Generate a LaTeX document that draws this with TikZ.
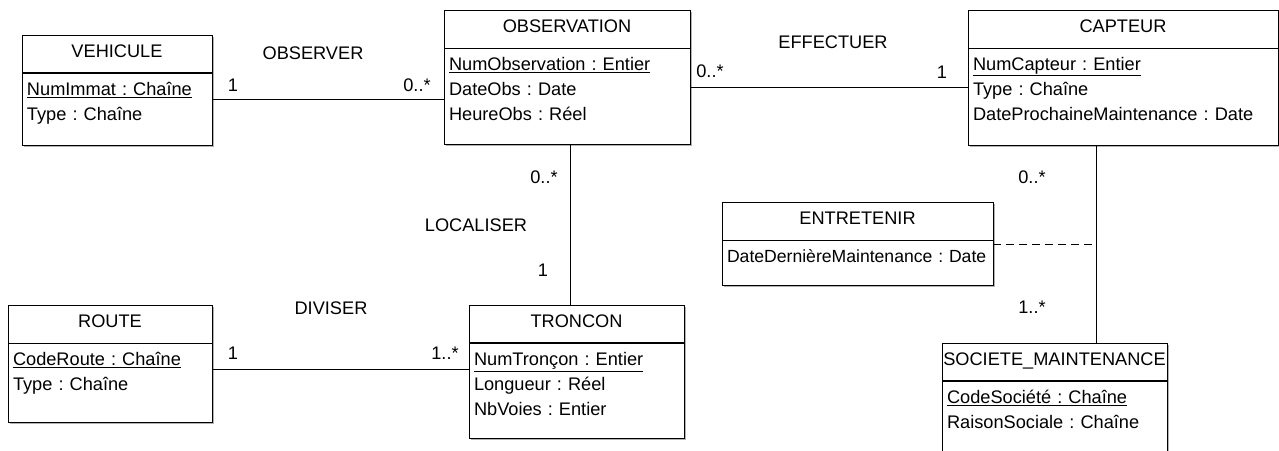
\documentclass[tikz,border=0pt]{standalone}
\usepackage{fontspec}
\setmainfont{Liberation Sans}
\usetikzlibrary{positioning,shadows}

\begin{document}
\begin{tikzpicture}[
      x=1pt,y=-1pt,line width=1pt,
      font=\fontsize{18.2}{25}\selectfont\frenchspacing,
      head/.style={draw,fill=white,anchor=north west,outer sep=0pt,
                   inner xsep=1pt,inner ysep=4pt,text height=18.5pt,text depth=11.5pt,
                   drop shadow={shadow xshift=2pt,shadow yshift=-2pt,fill=black!30,opacity=1}},
      body/.style={draw,fill=white,anchor=north west,outer sep=0pt,
                   inner xsep=5pt,inner ysep=4pt,text height=18.5pt,align=left,
                   drop shadow={shadow xshift=2pt,shadow yshift=-2pt,fill=black!30,opacity=1}},
      card/.style={inner sep=0pt,text height=13.2pt,text depth=0pt},
      link/.style={draw,line width=1pt},
      dep/.style={draw,line width=1pt,dash pattern=on 8pt off 5pt},
      sep/.style={draw,line width=2.2pt}]
    \path[use as bounding box] (0,0) rectangle (1279,450);
    \clip (0,0) rectangle (1279,450);
    \fill[white] (0,0) rectangle (1279,450);

    \node[head,minimum width=190pt] (vehH) at (22,35) {VEHICULE};
    \node[body,text width=180pt,text depth=45.5pt] (vehB) at (vehH.south west)
        {\underline{NumImmat : Chaîne}\\Type : Chaîne};
    \node[head,minimum width=246pt] (obsH) at (444,10) {OBSERVATION};
    \node[body,text width=236pt,text depth=69.5pt] (obsB) at (obsH.south west)
        {\underline{NumObservation : Entier}\\DateObs : Date\\HeureObs : Réel};
    \node[head,minimum width=310pt] (capH) at (968,10) {CAPTEUR};
    \node[body,text width=300pt,text depth=70.5pt] (capB) at (capH.south west)
        {\underline{NumCapteur : Entier}\\Type : Chaîne\\DateProchaineMaintenance : Date};
    \node[head,minimum width=204pt] (rouH) at (8,305) {ROUTE};
    \node[body,text width=194pt,text depth=52.5pt] (rouB) at (rouH.south west)
        {\underline{CodeRoute : Chaîne}\\Type : Chaîne};
    \node[head,minimum width=215pt] (troH) at (469,305) {TRONCON};
    \node[body,text width=205pt,text depth=68.5pt] (troB) at (troH.south west)
        {\underline{NumTronçon : Entier}\\Longueur : Réel\\NbVoies : Entier};
    \node[head,minimum width=271pt] (entH) at (722,202) {ENTRETENIR};
    \node[body,text width=261pt,text depth=18.5pt,
          font=\fontsize{17.6}{25}\selectfont\frenchspacing] (entB) at (entH.south west)
        {\mbox{DateDernièreMaintenance : Date}};
    \node[head,minimum width=225pt] (socH) at (942,343) {SOCIETE\_MAINTENANCE};
    \node[body,text width=215pt,text depth=93.5pt] (socB) at (socH.south west)
        {\underline{CodeSociété : Chaîne}\\RaisonSociale : Chaîne};
    \path[sep] (vehH.south west) -- (vehH.south east);
    \path[sep] (troH.south west) -- (troH.south east);
    \path[sep] (socH.south west) -- (socH.south east);

    \coordinate (cvo) at ([yshift=-3pt]obsB.west);
    \coordinate (coc) at ([yshift=9pt]obsB.east);
    \coordinate (cot) at ([xshift=3pt]obsB.south);
    \coordinate (crt) at ([yshift=21.5pt]troB.west);
    \coordinate (ccs) at ([xshift=-27pt]capB.south);
    \coordinate (cen) at ([yshift=-4pt]entB.north east);
    \path[link] (cvo -| vehB.east) -- (cvo);
    \path[link] (coc) -- (coc -| capB.west);
    \path[link] (cot) -- (cot |- troH.north);
    \path[link] (crt -| rouB.east) -- (crt);
    \path[link] (ccs) -- (ccs |- socH.north);
    \path[dep] (cen) -- (cen -| ccs);

    \node[card] (lObserver) at (313,53) {OBSERVER};
    \node[card] (mVeh) at (233,85) {1};
    \node[card] (mObsA) at (417,85) {0..*};
    \node[card] (lEffectuer) at (833,42) {EFFECTUER};
    \node[card] (mObsB) at (710,71) {0..*};
    \node[card] (mCap) at (942,72) {1};
    \node[card] (lLocaliser) at (476,225) {LOCALISER};
    \node[card] (mObsC) at (544,177) {0..*};
    \node[card] (mTroA) at (543,270) {1};
    \node[card] (lDiviser) at (331,308) {DIVISER};
    \node[card] (mRou) at (233,353) {1};
    \node[card] (mTroB) at (445,353) {1..*};
    \node[card] (mCapB) at (1032,177) {0..*};
    \node[card] (mSoc) at (1032,307) {1..*};
  \end{tikzpicture}
\end{document}
